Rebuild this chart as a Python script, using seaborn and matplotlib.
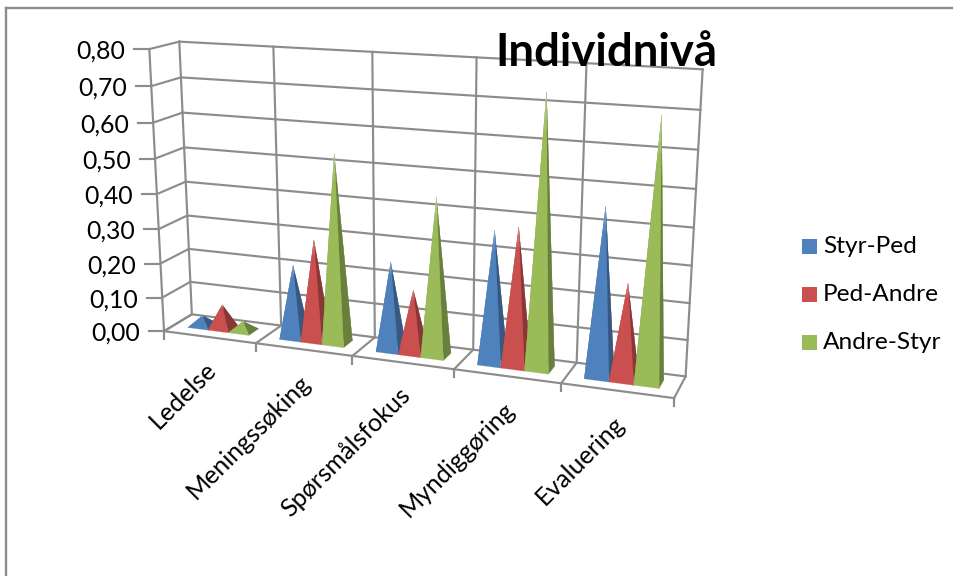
import numpy as np
import matplotlib
matplotlib.use("Agg")
import matplotlib.pyplot as plt
from matplotlib.patches import Polygon, Rectangle
import seaborn as sns

# ---- data ----
categories = ["Ledelse", "Meningssøking", "Spørsmålsfokus", "Myndiggøring", "Evaluering"]
series_names = ["Styr-Ped", "Ped-Andre", "Andre-Styr"]
styr_ped = [0.03, 0.21, 0.25, 0.365, 0.455]
ped_andre = [0.07, 0.29, 0.178, 0.38, 0.26]
andre_styr = [0.028, 0.535, 0.44, 0.735, 0.695]
y_ticks = [0.0, 0.1, 0.2, 0.3, 0.4, 0.5, 0.6, 0.7, 0.8]
title_text = "Individnivå"

sns.set_theme(style="white")
plt.rcParams["font.family"] = ["Lato", "DejaVu Sans"]
palette = sns.color_palette(["#4F81BD", "#C9504F", "#9BBB59"])
GRID = "#8C8C8C"

# ---- 3D -> picture projection, fitted to the reference's chart box ----
anchors_3d = [(0, 0, 0), (1, 0, 0), (2, 0, 0), (3, 0, 0), (4, 0, 0), (5, 0, 0),
              (0, 0, 1), (5, 0, 1), (1, 0, 1), (2, 0, 1), (3, 0, 1), (4, 0, 1),
              (0, .8, 1), (1, .8, 1), (2, .8, 1), (3, .8, 1), (4, .8, 1), (5, .8, 1),
              (0, .8, 0)]
anchors_px = [(164, 331), (256, 343), (353, 357), (454, 369), (561, 384), (674, 397),
              (192, 314), (686, 377), (280, 325), (376, 337), (473, 350), (576, 363),
              (179, 42), (274, 47), (372, 52), (477, 57), (587, 63), (702, 69),
              (149, 49)]
rows, rhs = [], []
for (X, Y, Z), (u, v) in zip(anchors_3d, anchors_px):
    rows.append([X, Y, Z, 1, 0, 0, 0, 0, -u * X, -u * Y, -u * Z]); rhs.append(u)
    rows.append([0, 0, 0, 0, X, Y, Z, 1, -v * X, -v * Y, -v * Z]); rhs.append(v)
h = np.linalg.lstsq(np.array(rows, float), np.array(rhs, float), rcond=None)[0]
H = np.append(h, 1).reshape(3, 4)


def proj(x, y, z):
    p = H @ np.array([x, y, z, 1.0])
    return np.array([p[0] / p[2], p[1] / p[2]])


fig = plt.figure(figsize=(9.54, 5.76), dpi=100, facecolor="white")
ax = fig.add_axes([0, 0, 1, 1])
ax.set_xlim(0, 954)
ax.set_ylim(576, 0)
ax.axis("off")


def seg(a, b, lw=1.55, color=GRID, z=1):
    ax.plot(*zip(a, b), color=color, lw=lw, solid_capstyle="projecting", zorder=z)


# outer chart frame
seg((6, 8), (960, 8), lw=1.7)
seg((6, 8), (6, 580), lw=1.7)

n = len(categories)
top = y_ticks[-1]
for v in y_ticks:
    seg(proj(0, v, 1), proj(n, v, 1))          # back wall
    seg(proj(0, v, 0), proj(0, v, 1))          # side wall
    a = proj(0, v, 0)
    seg(a, (a[0] - 15, a[1]))                  # tick
    ax.text(a[0] - 24, a[1] + 2, f"{v:.2f}".replace(".", ","), ha="right", va="center",
            fontsize=17.8, color="black", zorder=6)
for i in range(n + 1):
    seg(proj(i, 0, 1), proj(i, top, 1))        # back wall verticals
    seg(proj(i, 0, 0), proj(i, 0, 1))          # floor
    a = proj(i, 0, 0)
    seg(a, (a[0], a[1] + 8))                   # tick
seg(proj(0, 0, 0), proj(n, 0, 0))
seg(proj(0, 0, 0), proj(0, top, 0))

# pyramids: each face is flat, fading to a lighter tone near the tip like the original
gap, z0, z1 = 0.165, 0.32, 0.70
w = (1 - 2 * gap) / 3
fade = np.array([0.0, 0.86, 0.90, 0.94, 0.97, 1.0])
zo = 2


def draw_face(p, q, apex, col, z_order):
    for k in range(len(fade) - 1):
        t0, t1 = fade[k], fade[k + 1]
        mix = 0.08 * k
        tone = col * (1 - mix) + np.ones(3) * mix
        quad = [p + (apex - p) * t0, q + (apex - q) * t0,
                q + (apex - q) * t1, p + (apex - p) * t1]
        ax.add_patch(Polygon(quad, closed=True, fc=tuple(tone), ec=tuple(tone),
                             lw=0.15, zorder=z_order))


for i in range(n):
    for s, vals in enumerate([styr_ped, ped_andre, andre_styr]):
        c = np.array(palette[s])
        x0 = i + gap + s * w
        x1 = x0 + w
        apex = proj((x0 + x1) / 2, vals[i], (z0 + z1) / 2)
        fl, fr = proj(x0, 0, z0), proj(x1, 0, z0)
        bl, br = proj(x0, 0, z1), proj(x1, 0, z1)
        faces = [((bl, br), c * 0.85), ((fl, bl), c * 0.85),
                 ((fr, br), c * 0.68), ((fl, fr), c)]
        for (p, q), col in faces:
            draw_face(p, q, apex, col, zo)
            zo += 0.01

# category labels
for i, name in enumerate(categories):
    a = proj(i + 0.5, 0, 0)
    ax.text(a[0] + 3.5, a[1] + 29, name, rotation=45, rotation_mode="anchor",
            ha="right", va="center", fontsize=18, color="black", zorder=6)

# legend
for (name, col, yc) in zip(series_names, palette, [246.5, 294.5, 342.5]):
    ax.add_patch(Rectangle((802, yc - 7.5), 15, 15, fc=col, ec="none", zorder=6))
    ax.text(823, yc, name, ha="left", va="center", fontsize=17.6, color="black", zorder=6)

ax.text(495, 66, title_text, ha="left", va="baseline", fontsize=32.8, fontweight="bold",
        color="black", zorder=7)

fig.savefig("out.png", dpi=100, facecolor="white")
